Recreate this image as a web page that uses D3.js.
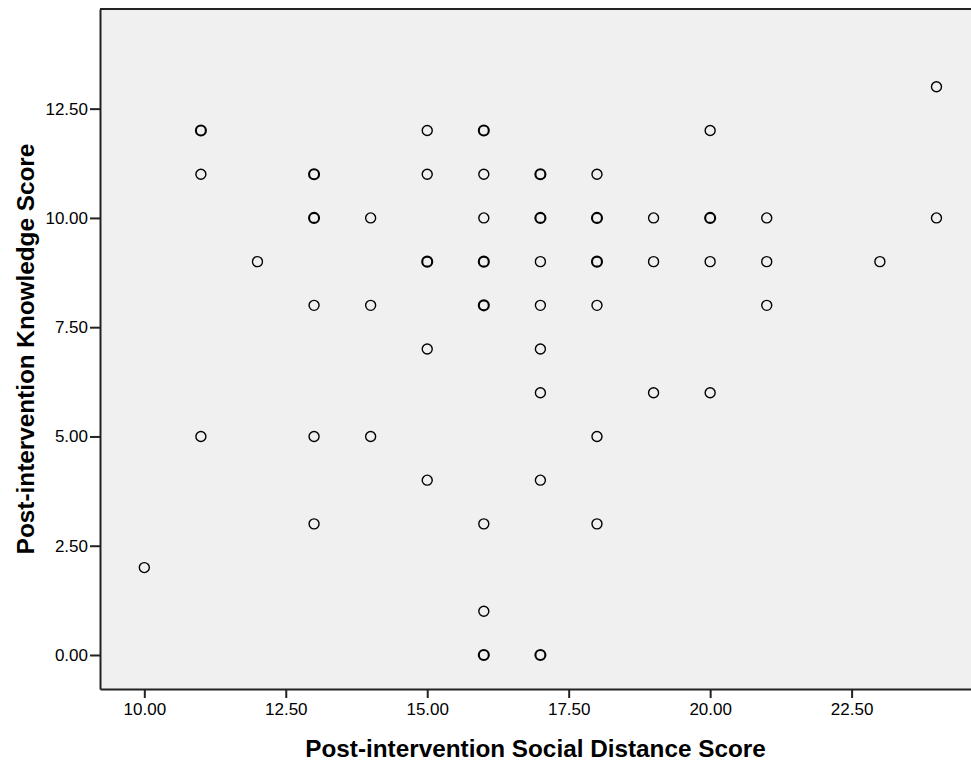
<!DOCTYPE html>
<html>
<head>
<meta charset="utf-8">
<script src="https://cdn.jsdelivr.net/npm/d3@7"></script>
<style>
  body { margin: 0; background: #fff; }
  text { font-family: 'Liberation Sans', Arial, sans-serif; fill: #000; }
  .axisTitle { font-size: 24.3px; font-weight: bold; }
</style>
</head>
<body>
<div id="scatter"></div>
<script>
// Data
var socialDistance = [10, 11, 11, 11, 12, 13, 13, 13, 13, 13, 14, 14, 14, 15, 15, 15, 15, 15,
  16, 16, 16, 16, 16, 16, 16, 16, 17, 17, 17, 17, 17, 17, 17, 17,
  18, 18, 18, 18, 18, 18, 19, 19, 19, 20, 20, 20, 20, 21, 21, 21, 23, 24, 24];
var knowledge = [2, 12, 11, 5, 9, 11, 10, 8, 5, 3, 10, 8, 5, 12, 11, 9, 7, 4,
  12, 11, 10, 9, 8, 3, 1, 0, 11, 10, 9, 8, 7, 6, 4, 0,
  11, 10, 9, 8, 5, 3, 10, 9, 6, 12, 10, 9, 6, 10, 9, 8, 9, 13, 10];
// how many cases share the same spot (overlapping markers look heavier)
var overlap = [1, 2, 1, 1, 1, 2, 2, 1, 1, 1, 1, 1, 1, 1, 1, 2, 1, 1,
  2, 1, 1, 2, 2, 1, 1, 2, 2, 2, 1, 1, 1, 1, 1, 2,
  1, 2, 2, 1, 1, 1, 1, 1, 1, 1, 2, 1, 1, 1, 1, 1, 1, 1, 1];
var xTicks = [10, 12.5, 15, 17.5, 20, 22.5];
var yTicks = [0, 2.5, 5, 7.5, 10, 12.5];

var data = socialDistance.map(function(d, i) {
  return { x: d, y: knowledge[i], n: overlap[i] };
});

var svgWidth = 971;
var svgHeight = 766;

var margin = { top: 9, right: 0, bottom: 77, left: 100 };
var width = svgWidth - margin.left - margin.right;
var height = svgHeight - margin.top - margin.bottom;

var svg = d3.select('#scatter')
  .append('svg')
  .attr('width', svgWidth)
  .attr('height', svgHeight);

var chartGroup = svg.append('g')
  .attr('transform', `translate(${margin.left}, ${margin.top})`);

var xLinearScale = d3.scaleLinear()
  .domain([9.217, 24.61])
  .range([0, width]);

var yLinearScale = d3.scaleLinear()
  .domain([-0.778, 14.78])
  .range([height, 0]);

// plot background
chartGroup.append('rect')
  .attr('width', width)
  .attr('height', height)
  .attr('fill', '#f0f0f0');

chartGroup.append('line')
  .attr('x1', 0).attr('x2', width)
  .attr('y1', 0).attr('y2', 0)
  .attr('stroke', '#222')
  .attr('stroke-width', 2);

var bottomAxis = d3.axisBottom(xLinearScale)
  .tickValues(xTicks)
  .tickFormat(d3.format('.2f'))
  .tickSize(9)
  .tickPadding(5)
  .tickSizeOuter(0);

var leftAxis = d3.axisLeft(yLinearScale)
  .tickValues(yTicks)
  .tickFormat(d3.format('.2f'))
  .tickSize(10)
  .tickPadding(2)
  .tickSizeOuter(0);

var xAxisG = chartGroup.append('g')
  .attr('transform', `translate(0, ${height})`)
  .call(bottomAxis);

var yAxisG = chartGroup.append('g').call(leftAxis);

[xAxisG, yAxisG].forEach(function(g) {
  g.attr('font-family', 'Liberation Sans, Arial, sans-serif').attr('font-size', 17);
  g.select('.domain').attr('stroke', '#222').attr('stroke-width', 2);
  g.selectAll('.tick line').attr('stroke', '#222').attr('stroke-width', 2);
  g.selectAll('.tick text').attr('fill', '#000');
});

// points
chartGroup.selectAll('circle.pt')
  .data(data)
  .enter()
  .append('circle')
  .attr('class', 'pt')
  .attr('cx', d => xLinearScale(d.x))
  .attr('cy', d => yLinearScale(d.y))
  .attr('r', 5)
  .attr('fill', 'none')
  .attr('stroke', '#000')
  .attr('stroke-width', d => d.n > 1 ? 2.1 : 1.4);

// axis titles
chartGroup.append('text')
  .attr('class', 'axisTitle')
  .attr('text-anchor', 'middle')
  .attr('x', width / 2)
  .attr('y', height + 68)
  .text('Post-intervention Social Distance Score');

chartGroup.append('text')
  .attr('class', 'axisTitle')
  .attr('text-anchor', 'middle')
  .attr('transform', `translate(${-margin.left + 34}, ${height / 2}) rotate(-90)`)
  .text('Post-intervention Knowledge Score');
</script>
</body>
</html>
